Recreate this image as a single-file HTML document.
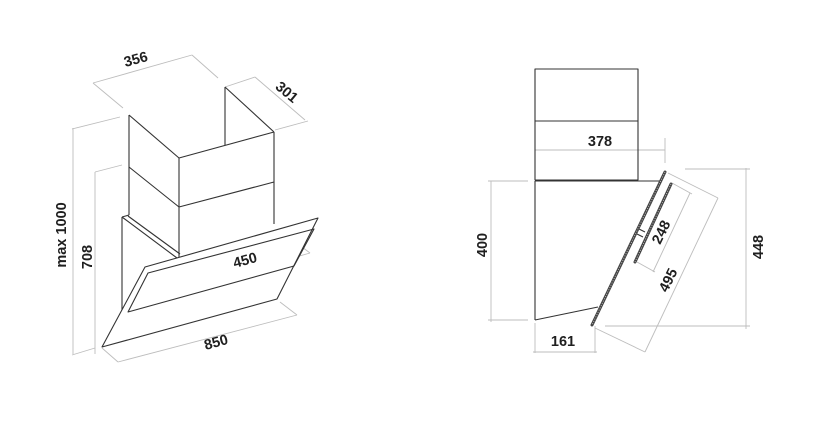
<!DOCTYPE html>
<html><head><meta charset="utf-8"><style>
html,body{margin:0;padding:0;background:#fff;}
svg{display:block;}
text{font-family:"Liberation Sans",Arial,sans-serif;font-size:14.5px;font-weight:bold;fill:#1f1f1f;}
</style></head><body>
<svg width="836" height="447" viewBox="0 0 836 447" xmlns="http://www.w3.org/2000/svg">
<g stroke="#bdbdbd" stroke-width="0.9" fill="none">
<line x1="93" y1="83" x2="192" y2="55"/><line x1="93" y1="83" x2="123" y2="108"/><line x1="192" y1="55" x2="218" y2="78"/>
<line x1="225" y1="87" x2="255" y2="77"/><line x1="255" y1="77" x2="305" y2="120"/><line x1="275" y1="130" x2="308" y2="121"/>
<line x1="73" y1="128" x2="73" y2="354"/><line x1="72" y1="129" x2="120" y2="117"/><line x1="72" y1="355" x2="95" y2="348"/>
<line x1="95" y1="172" x2="95" y2="354"/><line x1="95" y1="172" x2="122" y2="165"/>
<line x1="118" y1="362" x2="297" y2="315"/><line x1="102" y1="348" x2="118" y2="362"/><line x1="280" y1="302" x2="297" y2="315"/>
<line x1="197" y1="285" x2="310" y2="253"/><line x1="177" y1="268" x2="197" y2="285"/><line x1="290" y1="238" x2="310" y2="253"/>
<line x1="535" y1="150" x2="665" y2="150"/><line x1="665" y1="138" x2="665" y2="163"/>
<line x1="491" y1="181" x2="491" y2="322"/><line x1="488" y1="181" x2="528" y2="181"/><line x1="488" y1="320" x2="528" y2="320"/>
<line x1="535" y1="323" x2="535" y2="353"/><line x1="595" y1="326" x2="595" y2="353"/><line x1="533" y1="352" x2="597" y2="352"/>
<line x1="746" y1="168" x2="746" y2="329"/><line x1="685" y1="169" x2="750" y2="169"/><line x1="605" y1="326" x2="750" y2="326"/>
<line x1="718" y1="198" x2="645" y2="352"/><line x1="668" y1="173" x2="718" y2="198"/><line x1="595" y1="328" x2="645" y2="352"/>
<line x1="690" y1="193" x2="653" y2="272"/><line x1="672" y1="183" x2="692" y2="194"/><line x1="637" y1="262" x2="655" y2="272"/>
</g>
<g stroke="#333" stroke-width="1.1" fill="none" stroke-linejoin="round">
<line x1="225" y1="87" x2="225" y2="145"/><line x1="225" y1="87" x2="274" y2="132"/>
<line x1="129" y1="115" x2="129" y2="215"/><line x1="129" y1="115" x2="179" y2="158"/>
<line x1="179" y1="158" x2="274" y2="132"/><line x1="179" y1="158" x2="179" y2="257"/><line x1="274" y1="132" x2="274" y2="224"/>
<polyline points="129,167 179,207 274,182"/>
<line x1="122" y1="217" x2="122" y2="338"/><line x1="122" y1="217" x2="129" y2="215"/>
<line x1="122" y1="217" x2="177" y2="258"/><line x1="128" y1="216" x2="180" y2="254"/>
<polygon points="102,347 145,267 318,218 277,299" fill="#fff"/>
<polygon points="128,312 148,273 314,229 294,266"/>
<rect x="535" y="69" width="103" height="111"/><line x1="535" y1="121" x2="638" y2="121"/>
<line x1="535" y1="181" x2="662" y2="181"/><line x1="535" y1="181" x2="535" y2="320"/>
<line x1="535" y1="320" x2="598" y2="307"/>
<line x1="639" y1="229" x2="645" y2="232"/><line x1="637" y1="234" x2="643" y2="237"/>
</g>
<g stroke="#444" stroke-width="3" stroke-linecap="round">
<line x1="665" y1="172" x2="592" y2="325"/>
<line x1="671" y1="184" x2="635" y2="262"/>
</g>
<g stroke="#bbb" stroke-width="1" stroke-dasharray="1 1.5">
<line x1="665" y1="172" x2="592" y2="325"/>
<line x1="671" y1="184" x2="635" y2="262"/>
</g>
<text x="136" y="64" text-anchor="middle" transform="rotate(-15 136 60)">356</text>
<text x="287" y="97" text-anchor="middle" transform="rotate(40 287 92)">301</text>
<text x="245" y="265" text-anchor="middle" transform="rotate(-15 245 260)">450</text>
<text x="216" y="347" text-anchor="middle" transform="rotate(-15 216 342)">850</text>
<text x="67" y="244" text-anchor="middle" transform="rotate(-90 62 240)">max 1000</text>
<text x="92" y="267" text-anchor="middle" transform="rotate(-90 87 262)">708</text>
<text x="600" y="146" text-anchor="middle">378</text>
<text x="487" y="255" text-anchor="middle" transform="rotate(-90 482 250)">400</text>
<text x="563" y="346" text-anchor="middle">161</text>
<text x="763" y="257" text-anchor="middle" transform="rotate(-90 758 252)">448</text>
<text x="668" y="285" text-anchor="middle" transform="rotate(-64 668 280)">495</text>
<text x="661" y="237" text-anchor="middle" transform="rotate(-64 661 232)">248</text>
</svg>
</body></html>
